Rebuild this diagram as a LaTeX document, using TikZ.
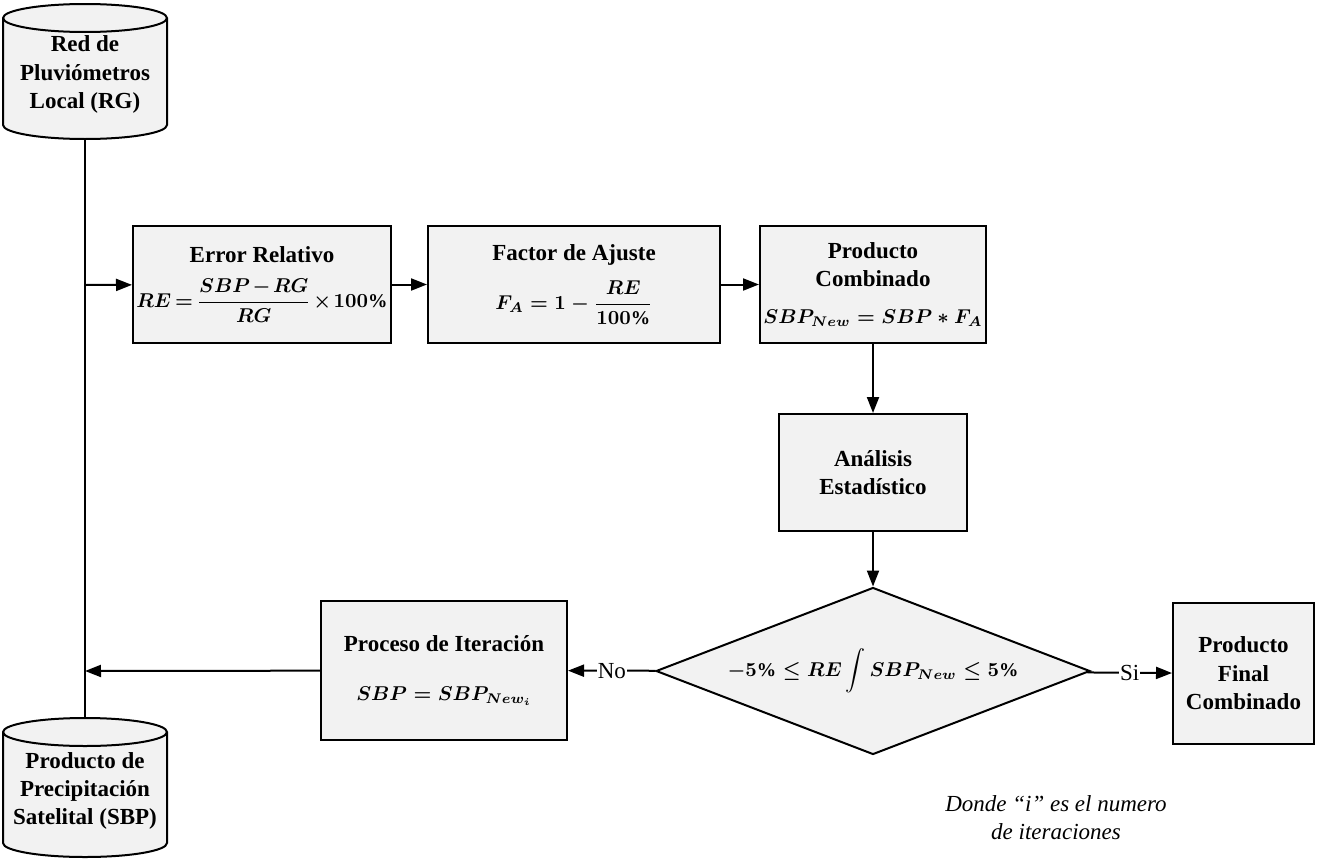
\documentclass[tikz,border=0pt]{standalone}
\usepackage{fontspec}
\setmainfont{Liberation Serif}
\usepackage{amsmath}
\usetikzlibrary{shapes.geometric,arrows.meta}

\definecolor{cajagris}{HTML}{F2F2F2}

% formulas are set a little smaller than the titles
\newcommand{\ecuacion}[1]{{\fontsize{9.7}{12}\selectfont$#1$}}

\tikzset{
  caja/.style={draw, line width=1pt, fill=cajagris, align=center,
    font=\fontsize{11.5}{14.2}\selectfont\bfseries\boldmath, inner sep=1pt},
  texto/.style={align=center, font=\fontsize{11.5}{14.2}\selectfont\bfseries,
    minimum width=82pt, inner sep=0pt},
  cilindro/.style={draw, line width=1pt, fill=cajagris},
  rombo/.style={caja, diamond, aspect=2.6, inner sep=0pt,
    minimum width=217pt, minimum height=83.5pt},
  flecha/.style={line width=1pt, -{Triangle[length=8pt,width=6pt]}},
  linea/.style={line width=1pt},
  etiqueta/.style={fill=white, inner sep=0.5pt, font=\fontsize{11.5}{14.2}\selectfont},
}

\begin{document}
\begin{tikzpicture}[x=0.5pt, y=-0.5pt]
    % Here I fix the page size
    \useasboundingbox (0,0) rectangle (1317,862);

    % the two cylinders
    \draw[cilindro] (3,18) -- (3,125) arc[start angle=180, end angle=360, x radius=41pt, y radius=7pt]
      -- (167,18) arc[start angle=0, end angle=180, x radius=41pt, y radius=7pt] -- cycle;
    \draw[line width=1pt] (3,18) arc[start angle=180, end angle=360, x radius=41pt, y radius=7pt];
    \draw[cilindro] (3,732) -- (3,843) arc[start angle=180, end angle=360, x radius=41pt, y radius=7pt]
      -- (167,732) arc[start angle=0, end angle=180, x radius=41pt, y radius=7pt] -- cycle;
    \draw[line width=1pt] (3,732) arc[start angle=180, end angle=360, x radius=41pt, y radius=7pt];

    % the two data sources
    \node[texto, minimum height=64.5pt] (rg) at (85,74.5) {Red de\\Pluviómetros\\Local (RG)};
    \node[texto, minimum height=73pt] (sbp) at (85,791) {Producto de\\Precipitación\\Satelital (SBP)};

    % boxes of the upper row
    \node[caja, minimum width=129pt, minimum height=58.5pt] (error) at (262,284.5)
      {Error Relativo\\[7pt] \ecuacion{\thickmuskip=3mu\medmuskip=2mu RE=\dfrac{SBP-RG}{RG}\times 100\%}};
    \node[caja, minimum width=146pt, minimum height=58.5pt] (factor) at (574,284.5)
      {Factor de Ajuste\\[7pt] \ecuacion{F_A=1-\dfrac{RE}{100\%}}};
    \node[caja, minimum width=113pt, minimum height=58.5pt] (combinado) at (873,284.5)
      {Producto\\Combinado\\[4pt] \ecuacion{SBP_{New}=SBP*F_A}};

    % statistics and the decision
    \node[caja, minimum width=94pt, minimum height=58.5pt] (analisis) at (873,472.5)
      {Análisis\\Estadístico};
    \node[rombo] (decision) at (873,671)
      {\ecuacion{-5\%\leq RE\displaystyle\int SBP_{New}\leq 5\%}};

    % the two ends of the decision
    \node[caja, minimum width=123pt, minimum height=69.5pt] (iteracion) at (444,670.5)
      {Proceso de Iteración\\[10pt] \ecuacion{SBP=SBP_{New_i}}};
    \node[caja, minimum width=70.5pt, minimum height=70.5pt] (final) at (1243.5,673.5)
      {Producto\\Final\\Combinado};

    % points on the vertical line
    \coordinate (entrada) at (85,285);
    \coordinate (regreso) at (85,671);

    % connectors
    \draw[linea] (rg.south) -- (sbp.north);
    \draw[flecha] (entrada) -- (error);
    \draw[flecha] (error) -- (factor);
    \draw[flecha] (factor) -- (combinado);
    \draw[flecha] (combinado) -- (analisis);
    \draw[flecha] (analisis) -- (decision);
    \draw[flecha] (decision) -- node[etiqueta, pos=0.5] {No} (iteracion);
    \draw[flecha] (decision) -- node[etiqueta, pos=0.5] {Si} (final);
    \draw[flecha] (iteracion) -- (regreso);

    % using node for the note
    \node[align=center, font=\fontsize{11.5}{14}\selectfont\itshape] (nota) at (1056,818)
      {Donde “i” es el numero\\de iteraciones};
\end{tikzpicture}
\end{document}
